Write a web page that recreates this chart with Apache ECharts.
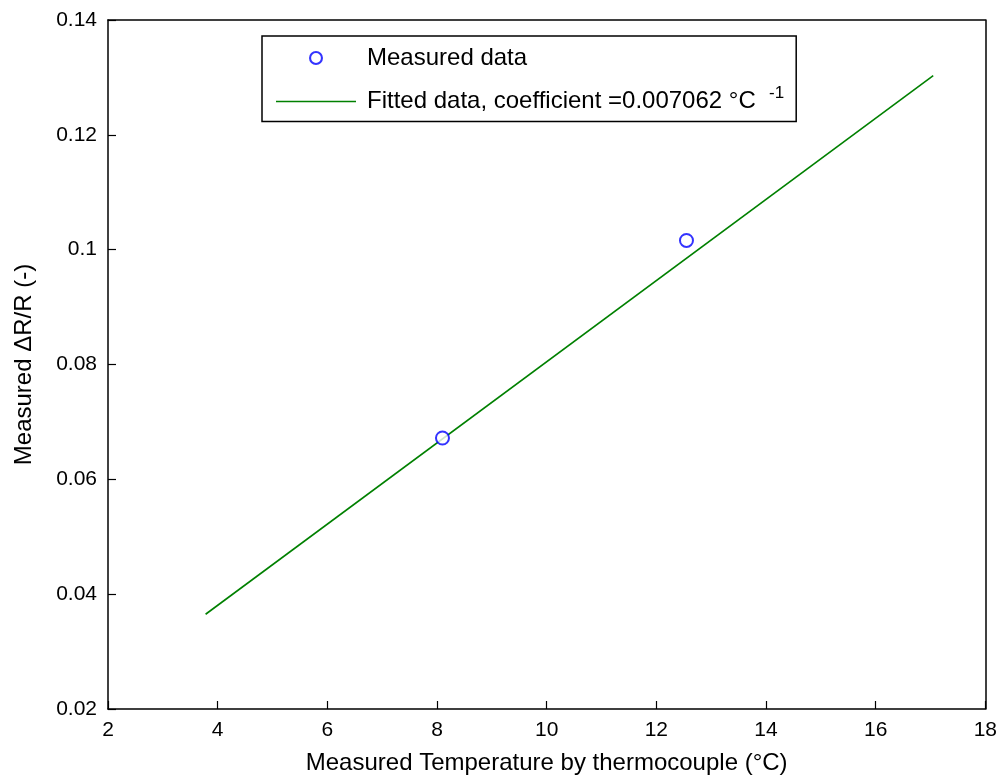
<!DOCTYPE html>
<html>
<head>
<meta charset="utf-8">
<script src="https://cdn.jsdelivr.net/npm/echarts@6/dist/echarts.min.js"></script>
<style>html,body{margin:0;padding:0;background:#fff}#c{width:1000px;height:780px}</style>
</head>
<body>
<div id="c"></div>
<script>
const measuredX = [8.10, 12.55];
const measuredY = [0.0672, 0.1016];
const fitX = [3.78, 17.05];
const fitY = [0.0365, 0.1303];
const xTicks = [2, 4, 6, 8, 10, 12, 14, 16, 18];
const yTicks = [0.02, 0.04, 0.06, 0.08, 0.1, 0.12, 0.14];
const seriesNames = ['Measured data', 'Fitted data, coefficient =0.007062 °C'];

const font = 'Liberation Sans, Arial, sans-serif';
const chart = echarts.init(document.getElementById('c'), null, {renderer: 'canvas'});
const axisCommon = {
  axisLine: {show: true, onZero: false, lineStyle: {color: '#000', width: 1.5}},
  axisTick: {show: true, inside: true, length: 8, lineStyle: {color: '#000', width: 1.2}},
  splitLine: {show: false}
};
const frameAxis = {
  axisLine: {show: true, onZero: false, lineStyle: {color: '#000', width: 1.5}},
  axisTick: {show: false}, axisLabel: {show: false}, splitLine: {show: false}
};
chart.setOption({
  animation: false,
  backgroundColor: '#fff',
  grid: {left: 108, right: 14, top: 20, bottom: 70},
  legend: {
    orient: 'vertical', left: 262, top: 36,
    padding: [10, 12, 8, 14],
    itemGap: 15,
    itemWidth: 80, itemHeight: 14,
    borderColor: '#000', borderWidth: 1.5,
    backgroundColor: '#fff',
    data: [
      {name: seriesNames[0], icon: 'path://M0,0 A6,6 0 1,1 0,12 A6,6 0 1,1 0,0 Z M0,1.8 A4.2,4.2 0 1,0 0,10.2 A4.2,4.2 0 1,0 0,1.8 Z',
       itemStyle: {color: '#0000ff', borderWidth: 0}},
      {name: seriesNames[1], icon: 'path://M0,6 H80 V7.6 H0 Z', itemStyle: {color: '#008000', borderWidth: 0}}
    ],
    formatter: function (n) { return n === seriesNames[1] ? n + '  {sup|-1}' : n; },
    textStyle: {fontFamily: font, fontSize: 24, color: '#000', padding: [0, 0, 0, 6],
      rich: {sup: {fontFamily: font, fontSize: 17, color: '#000', verticalAlign: 'top', padding: [0, 0, 16, 0]}}}
  },
  xAxis: [
    Object.assign({type: 'value', min: 2, max: 18, interval: 2, position: 'bottom',
      name: 'Measured Temperature by thermocouple (°C)', nameLocation: 'middle', nameGap: 42,
      nameTextStyle: {fontFamily: font, fontSize: 24, color: '#000'},
      axisLabel: {fontFamily: font, fontSize: 21, color: '#000', margin: 11,
        customValues: xTicks}}, axisCommon),
    Object.assign({type: 'value', min: 2, max: 18, position: 'top'}, frameAxis)
  ],
  yAxis: [
    Object.assign({type: 'value', min: 0.02, max: 0.14, interval: 0.02, position: 'left',
      name: 'Measured ΔR/R (-)', nameLocation: 'middle', nameGap: 72, nameRotate: 90,
      nameTextStyle: {fontFamily: font, fontSize: 24, color: '#000'},
      axisLabel: {fontFamily: font, fontSize: 21, color: '#000', margin: 11,
        customValues: yTicks,
        formatter: function (v) { return String(+v.toFixed(2)); }}}, axisCommon),
    Object.assign({type: 'value', min: 0.02, max: 0.14, position: 'right'}, frameAxis)
  ],
  series: [
    {
      name: seriesNames[0], type: 'scatter', symbol: 'emptyCircle', symbolSize: 13,
      itemStyle: {color: '#0000ff', borderColor: '#0000ff', borderWidth: 2},
      data: measuredX.map((x, i) => [x, measuredY[i]]), z: 3
    },
    {
      name: seriesNames[1], type: 'line', symbol: 'none',
      lineStyle: {color: '#008000', width: 1.6}, itemStyle: {color: '#008000'},
      data: fitX.map((x, i) => [x, fitY[i]]), z: 2
    }
  ]
});
</script>
</body>
</html>
